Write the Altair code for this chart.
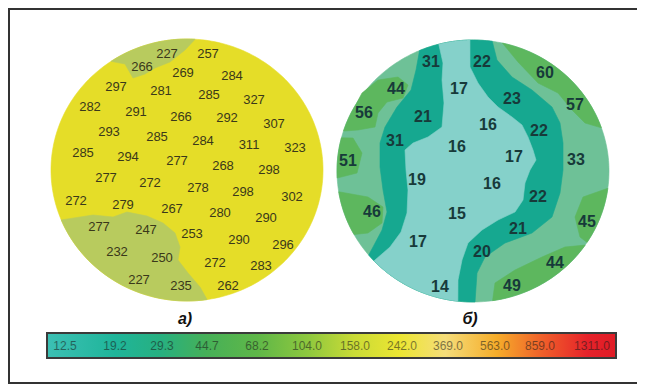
import altair as alt
import numpy as np
import pandas as pd

# ---------------- data ----------------
# left map (а) values and label positions
left_vals = ["227", "257", "266", "269", "284", "297", "281", "285", "327", "282",
             "291", "266", "292", "307", "293", "285", "284", "311", "323", "285",
             "294", "277", "268", "298", "277", "272", "278", "298", "302", "272",
             "279", "267", "280", "290", "277", "247", "253", "290", "296", "232",
             "250", "272", "283", "227", "235", "262"]
left_x = [167, 208, 142, 183, 232, 116, 161, 209, 254, 90,
          136, 181, 227, 274, 109, 157, 203, 249, 295, 83,
          128, 177, 223, 269, 106, 150, 198, 243, 292, 76,
          123, 172, 220, 266, 99, 146, 192, 239, 283, 117,
          162, 215, 261, 139, 181, 228]
left_y = [54, 54, 67, 73, 76, 87, 91, 95, 100, 107,
          112, 117, 118, 124, 132, 137, 141, 145, 148, 153,
          157, 161, 166, 170, 178, 183, 188, 192, 197, 201,
          205, 209, 213, 218, 227, 230, 234, 240, 245, 252,
          258, 263, 266, 280, 286, 286]

# right map (б) values and label positions
right_vals = ["31", "22", "60", "44", "17", "23", "57", "56", "21", "16",
              "22", "31", "16", "17", "33", "51", "19", "16", "22", "46",
              "15", "45", "21", "17", "20", "44", "14", "49"]
right_x = [431, 482, 545, 396, 459, 512, 575, 364, 423, 488,
           539, 395, 457, 514, 576, 348, 417, 492, 538, 372,
           457, 587, 518, 418, 482, 555, 440, 512]
right_y = [62, 62, 73, 89, 89, 99, 105, 113, 117, 125,
           131, 141, 147, 157, 160, 161, 180, 184, 197, 212,
           214, 222, 229, 242, 252, 263, 287, 286]

# map outlines: centre x, centre y, radius x, radius y
left_disc = (187, 170, 136, 131)
right_disc = (473, 171, 136, 131)

# zone boundaries (page pixels)
left_top_zone = [(108, 57), (125, 64), (133, 78), (145, 74), (155, 68), (170, 62), (185, 50), (195, 41)]
left_low_zone = [(61, 220), (93, 215), (113, 217), (127, 212), (147, 216), (163, 223), (175, 233),
                 (180, 247), (178, 260), (188, 273), (200, 287), (207, 299)]

teal_left_outer = [(365, 258), (373, 247), (382, 230), (387, 212), (383, 190), (380, 167), (380, 143),
                   (385, 127), (397, 107), (411, 90), (416, 70), (418, 47)]
teal_right_outer = [(492, 43), (497, 60), (512, 77), (532, 90), (552, 107), (560, 123), (563, 143),
                    (563, 170), (560, 193), (552, 217), (532, 233), (505, 243), (485, 257), (477, 273), (475, 300)]
core_left = [(375, 260), (390, 247), (401, 232), (407, 213), (408, 190), (406, 170), (405, 150),
             (413, 143), (428, 137), (442, 127), (444, 103), (442, 80), (443, 63), (439, 45)]
core_right = [(470, 43), (470, 67), (478, 83), (488, 97), (498, 107), (512, 117), (522, 125), (528, 137),
              (533, 150), (536, 160), (530, 170), (525, 183), (523, 200), (515, 212), (498, 220),
              (482, 230), (468, 243), (462, 260), (458, 280), (458, 300)]
green_patches = [
    [(345, 97), (362, 93), (378, 80), (398, 77), (408, 85), (403, 98), (387, 102), (378, 113), (375, 127), (358, 130), (340, 130)],
    [(338, 137), (353, 138), (362, 153), (357, 173), (338, 178)],
    [(350, 190), (368, 197), (383, 207), (382, 223), (368, 233), (357, 233)],
    [(502, 45), (518, 62), (538, 83), (558, 93), (572, 110), (585, 123), (595, 130)],
    [(598, 187), (583, 197), (575, 217), (580, 237), (588, 243)],
    [(588, 247), (565, 247), (542, 257), (515, 270), (495, 283), (492, 297)],
]

# colour scale bar
bar_labels = ["12.5", "19.2", "29.3", "44.7", "68.2", "104.0", "158.0", "242.0", "369.0", "563.0", "859.0", "1311.0"]
bar_label_x = [65, 115, 162, 207, 257, 307, 355, 402, 448, 495, 540, 592]
bar_stop_offsets = [0.0, 0.12, 0.2, 0.28, 0.37, 0.46, 0.54, 0.62, 0.7, 0.79, 0.87, 0.95, 1.0]
bar_stop_colors = ["#3cc0b4", "#1fb59a", "#27b080", "#46b058", "#5fb748", "#8fc83e", "#cadb36",
                   "#ece632", "#f5dd7a", "#f6ad2a", "#f0602a", "#e6222a", "#e01c26"]

captions = ["а)", "б)"]
caption_x = [185, 470]

# ---------------- geometry helpers ----------------
def ang(c, p):
    return np.arctan2((p[1] - c[1]) / c[3], (p[0] - c[0]) / c[2])

def ept(c, t):
    return (c[0] + c[2] * np.cos(t), c[1] + c[3] * np.sin(t))

def arc(c, p0, p1, n=40):
    a0, a1 = ang(c, p0), ang(c, p1)
    d = (a1 - a0 + np.pi) % (2 * np.pi) - np.pi
    return [ept(c, a0 + d * s) for s in np.linspace(0, 1, n)]

def snap(c, ch):
    ch = list(ch)
    ch[0] = ept(c, ang(c, ch[0]))
    ch[-1] = ept(c, ang(c, ch[-1]))
    return ch

def region(c, *chains):
    chains = [snap(c, ch) for ch in chains]
    pts = []
    for k, ch in enumerate(chains):
        pts += ch
        nxt = chains[(k + 1) % len(chains)]
        pts += arc(c, ch[-1], nxt[0])
    return pts

def disc(c):
    return [ept(c, t) for t in np.linspace(0, 2 * np.pi, 241)]

polys = []  # (z, colour, points)
polys.append((0, "#e5dd28", disc(left_disc)))
polys.append((1, "#b8cb5e", region(left_disc, left_top_zone)))
polys.append((1, "#b8cb5e", region(left_disc, left_low_zone)))
polys.append((0, "#6ec197", disc(right_disc)))
for gp in green_patches:
    polys.append((1, "#5db75e", region(right_disc, gp)))
polys.append((2, "#16a890", region(right_disc, teal_left_outer, teal_right_outer)))
polys.append((3, "#85d1ca", region(right_disc, core_left, core_right)))

rows = []
for pid, (z, col, pts) in enumerate(polys):
    for i, (x, y) in enumerate(pts):
        rows.append({"id": pid, "z": z, "col": col, "i": i, "x": float(x), "y": float(y)})
poly_df = pd.DataFrame(rows)

X = lambda f="x": alt.X(f"{f}:Q", scale=alt.Scale(domain=[8, 637], nice=False, zero=False), axis=None)
Y = lambda f="y": alt.Y(f"{f}:Q", scale=alt.Scale(domain=[8, 384], nice=False, zero=False, reverse=True), axis=None)

layers = []
for z in sorted(poly_df["z"].unique()):
    layers.append(
        alt.Chart(poly_df[poly_df["z"] == z])
        .mark_line(strokeWidth=0.6)
        .encode(x=X(), y=Y(), order="i:Q", detail="id:N",
                fill=alt.Fill("col:N", scale=None), stroke=alt.Stroke("col:N", scale=None))
    )

left_df = pd.DataFrame({"x": left_x, "y": left_y, "t": left_vals})
right_df = pd.DataFrame({"x": right_x, "y": right_y, "t": right_vals})

layers.append(
    alt.Chart(left_df).mark_text(font="Liberation Sans", fontSize=13, color="#3a381a", baseline="middle")
    .encode(x=X(), y=Y(), text="t:N")
)
layers.append(
    alt.Chart(right_df).mark_text(font="Liberation Sans", fontSize=16, fontWeight="bold", color="#173a3a", baseline="middle")
    .encode(x=X(), y=Y(), text="t:N")
)

cap_df = pd.DataFrame({"x": caption_x, "y": [319, 319], "t": captions})
layers.append(
    alt.Chart(cap_df).mark_text(font="Liberation Sans", fontSize=16, fontWeight="bold", fontStyle="italic", color="#111111", baseline="middle")
    .encode(x=X(), y=Y(), text="t:N")
)

grad = {"gradient": "linear", "x1": 0, "x2": 1, "y1": 0, "y2": 0,
        "stops": [{"offset": o, "color": c} for o, c in zip(bar_stop_offsets, bar_stop_colors)]}
bar_df = pd.DataFrame({"x": [47], "x2": [616], "y": [333], "y2": [358]})
layers.append(
    alt.Chart(bar_df).mark_rect(fill=grad, stroke="#3a3a3a", strokeWidth=2)
    .encode(x=X(), x2="x2:Q", y=Y(), y2="y2:Q")
)
bl_df = pd.DataFrame({"x": bar_label_x, "y": [346] * len(bar_label_x), "t": bar_labels})
layers.append(
    alt.Chart(bl_df).mark_text(font="Liberation Sans", fontSize=12, color="#1a1a1a", opacity=0.55, baseline="middle")
    .encode(x=X(), y=Y(), text="t:N")
)

frame_df = pd.DataFrame({"x": [9], "x2": [700], "y": [9], "y2": [383]})
layers.append(
    alt.Chart(frame_df).mark_rect(fillOpacity=0, stroke="#333333", strokeWidth=2)
    .encode(x=X(), x2="x2:Q", y=Y(), y2="y2:Q")
)

chart = (
    alt.layer(*layers)
    .properties(width=629, height=376, padding=0, autosize=alt.AutoSizeParams(type="none"), background="white")
    .configure_view(stroke=None)
)

chart.save("out.html", embed_options={"renderer": "svg", "actions": False})
